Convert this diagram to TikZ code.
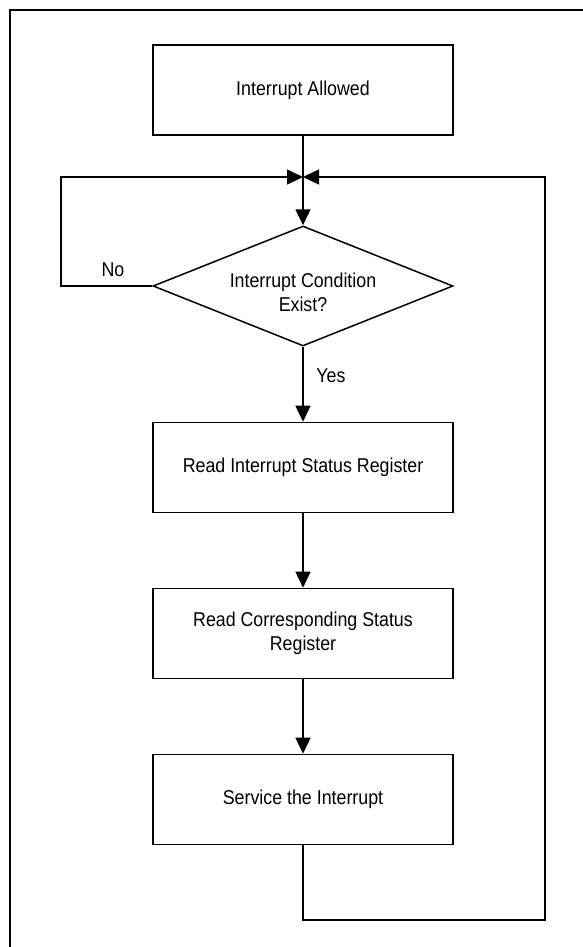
\documentclass[tikz,border=0pt]{standalone}
\usepackage{fontspec}
\setmainfont[FakeStretch=0.89]{Liberation Sans}
\usetikzlibrary{shapes.geometric,arrows.meta}
\begin{document}
\begin{tikzpicture}[x=1pt,y=-1pt,
  every node/.style={font=\fontsize{20}{24}\selectfont},
  procbox/.style={draw,line width=1.6pt,minimum width=300pt,minimum height=90pt,inner sep=0pt,align=center},
  decbox/.style={draw,diamond,line width=1.5pt,minimum width=300pt,minimum height=120pt,inner sep=0pt,aspect=2.5},
  arr/.style={line width=1.5pt,-{Triangle[length=16pt,width=15pt]}},
  lbl/.style={inner sep=0pt}]
\useasboundingbox (0,0) rectangle (583,947);
% outer frame (continues past the right and bottom edges)
\coordinate (fb) at (10,947);
\coordinate (ftl) at (10,10);
\coordinate (fr) at (583,10);
\draw[line width=1.7pt] (fb) -- (ftl) -- (fr);

\node[procbox] (allowed) at (303,90) {Interrupt Allowed};
\node[decbox] (cond) at (303,286) {};
\node[align=center,inner sep=0pt] (condtext) at (303,292) {Interrupt Condition\\Exist?};
\node[procbox] (readisr) at (303,467.5) {Read Interrupt Status Register};
\node[procbox] (readcsr) at (303,633.5) {Read Corresponding Status\\Register};
\node[procbox] (service) at (303,799.5) {Service the Interrupt};

\coordinate (junc) at (303,177);
\coordinate (noc) at (61,286);
\coordinate (nott) at (61,177);
\coordinate (svb) at (303,920);
\coordinate (rtb) at (545,920);
\coordinate (rtt) at (545,177);

\draw[arr] (allowed.south) -- (cond.north);
\draw[arr] (cond.west) -- (noc) -- (nott) -- (junc);
\draw[arr] (service.south) -- (svb) -- (rtb) -- (rtt) -- (junc);
\draw[arr] (cond.south) -- (readisr.north);
\draw[arr] (readisr.south) -- (readcsr.north);
\draw[arr] (readcsr.south) -- (service.north);

\node[lbl] (nolbl) at (113,269.5) {No};
\node[lbl] (yeslbl) at (331,375.5) {Yes};
\end{tikzpicture}
\end{document}
